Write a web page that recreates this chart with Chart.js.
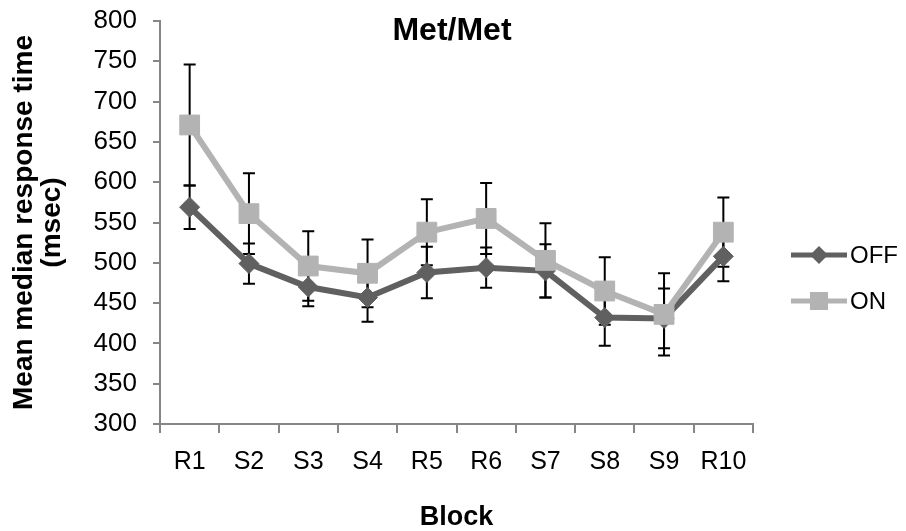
<!DOCTYPE html>
<html>
<head>
<meta charset="utf-8">
<script src="https://cdn.jsdelivr.net/npm/chart.js@4.4.1/dist/chart.umd.min.js"></script>
<style>
  body { margin: 0; background: #fff; }
  #wrap { width: 906px; height: 531px; }
</style>
</head>
<body>
<div id="wrap"><canvas id="myChart" width="906" height="531"></canvas></div>
<script>
// Data
const blocks = ['R1', 'S2', 'S3', 'S4', 'R5', 'R6', 'S7', 'S8', 'S9', 'R10'];
const offValues = [569, 499, 470, 457, 488, 494, 490, 432, 431, 508];
const offErrors = [27, 25, 24, 30, 32, 25, 33, 35, 37, 31];
const onValues = [671, 561, 496, 487, 538, 555, 503, 465, 436, 538];
const onErrors = [75, 50, 43, 42, 41, 44, 46, 42, 51, 43];
const yTicks = { min: 300, max: 800, step: 50 };

const FONT = "'Liberation Sans', Arial, sans-serif";
const offColor = '#606060';
const onColor = '#b3b3b3';
const axisColor = '#868686';

// Error bars (drawn behind the lines and markers)
const errorBars = {
  id: 'errorBars',
  beforeDatasetsDraw(chart) {
    const ctx = chart.ctx;
    const x = chart.scales.x;
    const y = chart.scales.y;
    ctx.save();
    ctx.strokeStyle = '#000';
    ctx.lineWidth = 2;
    [[offValues, offErrors], [onValues, onErrors]].forEach(function(pair) {
      pair[0].forEach(function(v, i) {
        const px = x.getPixelForValue(i);
        const top = y.getPixelForValue(v + pair[1][i]);
        const bot = y.getPixelForValue(v - pair[1][i]);
        ctx.beginPath();
        ctx.moveTo(px, top); ctx.lineTo(px, bot);
        ctx.moveTo(px - 6, top); ctx.lineTo(px + 6, top);
        ctx.moveTo(px - 6, bot); ctx.lineTo(px + 6, bot);
        ctx.stroke();
      });
    });
    ctx.restore();
  }
};

// Title inside the plot and a line+marker legend on the right
const extras = {
  id: 'extras',
  afterDraw(chart) {
    const ctx = chart.ctx;
    ctx.save();
    ctx.fillStyle = '#000';
    ctx.font = 'bold 32px ' + FONT;
    ctx.textAlign = 'center';
    ctx.textBaseline = 'middle';
    ctx.fillText('Met/Met', 452, 31);

    const items = [
      { label: 'OFF', color: offColor, style: 'diamond', y: 255 },
      { label: 'ON', color: onColor, style: 'square', y: 301 }
    ];
    items.forEach(function(it) {
      ctx.strokeStyle = it.color;
      ctx.lineWidth = 5;
      ctx.beginPath();
      ctx.moveTo(791, it.y); ctx.lineTo(847, it.y);
      ctx.stroke();
      ctx.fillStyle = it.color;
      ctx.beginPath();
      if (it.style === 'diamond') {
        ctx.moveTo(819, it.y - 9); ctx.lineTo(828, it.y);
        ctx.lineTo(819, it.y + 9); ctx.lineTo(810, it.y);
        ctx.closePath();
      } else {
        ctx.rect(810, it.y - 9, 18, 18);
      }
      ctx.fill();
      ctx.fillStyle = '#000';
      ctx.font = '24px ' + FONT;
      ctx.textAlign = 'left';
      ctx.fillText(it.label, 850, it.y + 1);
    });
    ctx.restore();
  }
};

const ctx = document.getElementById('myChart');
const myChart = new Chart(ctx, {
  type: 'line',
  data: {
    labels: blocks,
    datasets: [{
      label: 'OFF',
      data: offValues,
      borderColor: offColor,
      backgroundColor: offColor,
      borderWidth: 6,
      pointStyle: 'rectRot',
      pointRadius: 10,
      pointBackgroundColor: offColor,
      pointBorderColor: offColor,
      pointBorderWidth: 1,
      tension: 0,
      order: 1
    }, {
      label: 'ON',
      data: onValues,
      borderColor: onColor,
      backgroundColor: onColor,
      borderWidth: 6,
      pointStyle: 'rect',
      pointRadius: 14,
      pointBackgroundColor: onColor,
      pointBorderColor: onColor,
      pointBorderWidth: 1,
      tension: 0,
      order: 0
    }]
  },
  options: {
    responsive: false,
    animation: false,
    layout: { padding: { top: 21, right: 153, bottom: 0, left: 0 } },
    plugins: {
      legend: { display: false },
      tooltip: { enabled: false }
    },
    scales: {
      x: {
        offset: true,
        grid: { offset: true, drawOnChartArea: false, tickLength: 9, color: axisColor, lineWidth: 2 },
        border: { color: axisColor, width: 2 },
        ticks: { color: '#000', font: { family: FONT, size: 25 }, padding: 14, maxRotation: 0 },
        title: { display: true, text: 'Block', color: '#000', font: { family: FONT, size: 27, weight: 'bold', lineHeight: 1 }, padding: 0 },
        afterFit(scale) { scale.height = 107; scale.paddingLeft = 0; scale.paddingRight = 0; }
      },
      y: {
        min: yTicks.min,
        max: yTicks.max,
        grid: { drawOnChartArea: false, tickLength: 7, color: axisColor, lineWidth: 2 },
        border: { color: axisColor, width: 2 },
        ticks: { stepSize: yTicks.step, color: '#000', font: { family: FONT, size: 26 }, padding: 16 },
        title: { display: true, text: ['Mean median response time', '(msec)'], color: '#000', font: { family: FONT, size: 28, weight: 'bold', lineHeight: 1 }, padding: { top: 10 } },
        afterFit(scale) { scale.width = 160; scale.paddingTop = 0; scale.paddingBottom = 0; }
      }
    }
  },
  plugins: [errorBars, extras]
});
</script>
</body>
</html>
